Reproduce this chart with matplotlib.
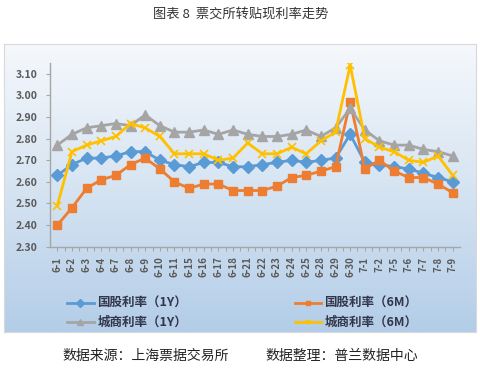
import numpy as np
import matplotlib
matplotlib.use('Agg')
import matplotlib.pyplot as plt
from matplotlib.colors import LinearSegmentedColormap

plt.rcParams['font.family'] = ['Noto Sans CJK SC', 'DejaVu Sans']

dates = ['6-1', '6-2', '6-3', '6-4', '6-7', '6-8', '6-9', '6-10', '6-11', '6-15',
         '6-16', '6-17', '6-18', '6-21', '6-22', '6-23', '6-24', '6-25', '6-28',
         '6-29', '6-30', '7-1', '7-2', '7-5', '7-6', '7-7', '7-8', '7-9']
# 国股利率（1Y）
gg_1y = [2.63, 2.68, 2.71, 2.71, 2.72, 2.74, 2.74, 2.70, 2.68, 2.67,
         2.69, 2.69, 2.67, 2.67, 2.68, 2.69, 2.70, 2.69, 2.70,
         2.71, 2.82, 2.69, 2.68, 2.67, 2.66, 2.64, 2.62, 2.60]
# 国股利率（6M）
gg_6m = [2.40, 2.48, 2.57, 2.61, 2.63, 2.68, 2.71, 2.66, 2.60, 2.57,
         2.59, 2.59, 2.56, 2.56, 2.56, 2.58, 2.62, 2.63, 2.65,
         2.67, 2.97, 2.66, 2.70, 2.65, 2.62, 2.62, 2.59, 2.55]
# 城商利率（1Y）
cs_1y = [2.77, 2.82, 2.85, 2.86, 2.87, 2.86, 2.91, 2.86, 2.83, 2.83,
         2.84, 2.82, 2.84, 2.82, 2.81, 2.81, 2.82, 2.84, 2.81,
         2.85, 2.94, 2.84, 2.79, 2.77, 2.77, 2.75, 2.74, 2.72]
# 城商利率（6M）
cs_6m = [2.49, 2.74, 2.77, 2.79, 2.81, 2.87, 2.85, 2.81, 2.73, 2.73,
         2.73, 2.70, 2.71, 2.78, 2.73, 2.73, 2.76, 2.73, 2.79,
         2.83, 3.14, 2.80, 2.76, 2.74, 2.70, 2.69, 2.72, 2.63]

W, H = 481, 377
fig = plt.figure(figsize=(W / 100, H / 100), dpi=100)

# chart box with gradient
bg = fig.add_axes([4 / W, 1 - 332 / H, 472 / W, 288 / H], zorder=0)
grad = np.linspace(0, 1, 256).reshape(-1, 1)
cmap = LinearSegmentedColormap.from_list('bg', ['#f5f8fc', '#d6e4f2', '#b3cde8'])
bg.imshow(grad, aspect='auto', cmap=cmap, extent=[0, 1, 0, 1], origin='upper')
bg.set_xticks([])
bg.set_yticks([])
for s in bg.spines.values():
    s.set_color('#d9d9d9')
    s.set_linewidth(0.8)

ax = fig.add_axes([50 / W, 1 - 246.7 / H, 410 / W, (246.7 - 63) / H], zorder=1)
ax.patch.set_alpha(0)

x = np.arange(len(dates))
l1, = ax.plot(x, gg_1y, color='#5b9bd5', lw=2.0, marker='D', ms=6.5, label='国股利率（1Y）')
l2, = ax.plot(x, gg_6m, color='#ed7d31', lw=2.0, marker='s', ms=5.5, label='国股利率（6M）')
l3, = ax.plot(x, cs_1y, color='#a5a5a5', lw=2.0, marker='^', ms=6.5, label='城商利率（1Y）')
l4, = ax.plot(x, cs_6m, color='#ffc000', lw=2.0, marker='x', ms=5.5, mew=1.2, label='城商利率（6M）')

ax.set_xlim(-0.5, len(dates) - 0.5)
ax.set_ylim(2.30, 3.15)
yt = np.arange(2.30, 3.11, 0.10)
ax.set_yticks(yt)
ax.set_yticklabels([f'{v:.2f}' for v in yt], fontsize=7.5, fontweight='bold', color='#595959')
ax.set_xticks(x)
ax.set_xticklabels(dates, rotation=90, fontsize=7, fontweight='bold', color='#595959')
ax.set_xticks(x[:-1] + 0.5, minor=True)
ax.tick_params(axis='x', which='both', length=3, width=0.8, color='#a6a6a6', pad=4)
ax.tick_params(axis='y', length=3, width=0.8, color='#a6a6a6', pad=6)
for side in ['top', 'right']:
    ax.spines[side].set_visible(False)
for side in ['left', 'bottom']:
    ax.spines[side].set_color('#a6a6a6')
    ax.spines[side].set_linewidth(1.0)

leg = fig.legend([l1, l3, l2, l4], [l.get_label() for l in [l1, l3, l2, l4]],
                 ncol=2, loc='upper left', bbox_to_anchor=(61 / W, 1 - 291 / H),
                 frameon=False, handlelength=2.1, handletextpad=0.3,
                 columnspacing=8.6, labelspacing=0.45, borderpad=0, markerscale=0.6,
                 prop={'size': 9, 'weight': 'bold'})
for t in leg.get_texts():
    t.set_color('#33364a')

fig.text(240.5 / W, 1 - 14 / H, '图表 8  票交所转贴现利率走势', ha='center', va='center',
         fontsize=9.5, color='#333333')
fig.text(62 / W, 1 - 356 / H, '数据来源：上海票据交易所', va='center', fontsize=10, color='#222222')
fig.text(265 / W, 1 - 356 / H, '数据整理：普兰数据中心', va='center', fontsize=10, color='#222222')

fig.savefig('out.png', dpi=100)
